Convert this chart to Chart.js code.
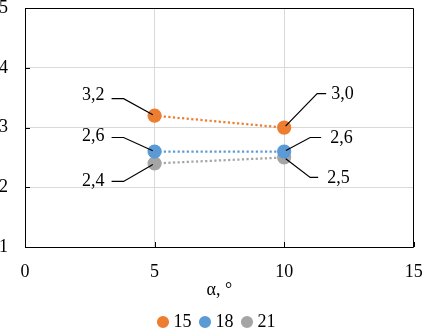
<!DOCTYPE html>
<html><head><meta charset="utf-8">
<script src="https://cdn.jsdelivr.net/npm/chart.js@4/dist/chart.umd.min.js"></script>
<style>html,body{margin:0;padding:0;background:#fff;}#wrap{width:422px;height:333px;}</style>
</head><body><div id="wrap"><canvas id="c" width="422" height="333"></canvas></div>
<script>
// ---- data ----
const xValues = [5, 10];
const seriesNames = ['15', '18', '21'];
const series15 = [3.2, 3.0];
const series18 = [2.6, 2.6];
const series21 = [2.4, 2.5];
const xTicks = [0, 5, 10, 15];
const yTicks = [1, 2, 3, 4, 5];
const xTitle = 'α, °';

// ---- styles / label placement (not data) ----
const colors = ['#ED7D31', '#5B9BD5', '#A5A5A5'];
// per series, per point: pixel offsets from the marker for leader elbow and text
const labelPlacement = [
  [{side: 'left', dy: -17, ty: -20, e1: -43, e2: -31, tx: -50},
   {side: 'right', dy: -34, ty: -33, e1: 42, e2: 33, tx: 47}],
  [{side: 'left', dy: -14, ty: -15, e1: -43, e2: -31, tx: -50},
   {side: 'right', dy: -14, ty: -13, e1: 37, e2: 26, tx: 46}],
  [{side: 'left', dy: 18, ty: 17.5, e1: -43, e2: -31, tx: -50},
   {side: 'right', dy: 20, ty: 21, e1: 34, e2: 26, tx: 43}]
];
const FONT = '"Liberation Serif", "Times New Roman", serif';

const allSeries = [series15, series18, series21];
const datasets = allSeries.map((vals, i) => ({
  label: seriesNames[i],
  data: xValues.map((x, j) => ({x: x, y: vals[j]})),
  borderColor: colors[i],
  backgroundColor: colors[i],
  pointBackgroundColor: colors[i],
  pointBorderColor: colors[i],
  borderWidth: 2.25,
  borderDash: [2.2, 2.4],
  borderCapStyle: 'butt',
  pointRadius: 6,
  pointHoverRadius: 6,
  pointStyle: 'circle',
  showLine: true,
  fill: false,
  tension: 0
}));

const fmt = v => v.toFixed(1).replace('.', ',');

const framePlugin = {
  id: 'frame',
  beforeDraw(chart) {
    // shift the legend row slightly right to sit under the plot centre
    if (chart.legend) chart.legend.left = 15;
  },
  beforeDatasetsDraw(chart) {
    const {ctx, chartArea: a, scales} = chart;
    ctx.save();
    ctx.strokeStyle = '#000';
    ctx.lineWidth = 1;
    ctx.beginPath();
    ctx.rect(Math.round(a.left) + 0.5, Math.round(a.top) + 0.5, Math.round(a.right - a.left) - 1, Math.round(a.bottom - a.top));
    ctx.stroke();
    ctx.beginPath();
    yTicks.forEach(v => {
      const y = Math.round(scales.y.getPixelForValue(v)) + 0.5;
      ctx.moveTo(a.left, y); ctx.lineTo(a.left + 5, y);
    });
    xTicks.forEach(v => {
      const x = Math.round(scales.x.getPixelForValue(v)) + 0.5;
      ctx.moveTo(x, a.bottom); ctx.lineTo(x, a.bottom - 5);
    });
    ctx.stroke();
    ctx.restore();
  }
};

const labelPlugin = {
  id: 'leaderLabels',
  afterDatasetsDraw(chart) {
    const {ctx} = chart;
    ctx.save();
    ctx.font = '18px ' + FONT;
    ctx.fillStyle = '#000';
    ctx.strokeStyle = '#000';
    ctx.lineWidth = 1.2;
    ctx.textBaseline = 'middle';
    chart.data.datasets.forEach((ds, i) => {
      const meta = chart.getDatasetMeta(i);
      meta.data.forEach((pt, j) => {
        const p = labelPlacement[i][j];
        const px = pt.x, py = pt.y;
        const ey = py + p.dy;
        const e1 = px + p.e1, e2 = px + p.e2;
        ctx.textAlign = p.side === 'left' ? 'right' : 'left';
        const ang = Math.atan2(py - ey, px - e2);
        const endX = px - Math.cos(ang) * 2, endY = py - Math.sin(ang) * 2;
        ctx.beginPath();
        ctx.moveTo(e1, ey);
        ctx.lineTo(e2, ey);
        ctx.lineTo(endX, endY);
        ctx.stroke();
        ctx.fillText(fmt(allSeries[i][j]), px + p.tx, py + p.ty);
      });
    });
    ctx.restore();
  }
};

new Chart(document.getElementById('c'), {
  type: 'scatter',
  data: {datasets},
  options: {
    responsive: false,
    animation: false,
    devicePixelRatio: 1,
    layout: {padding: {top: 7, right: 0, left: 0, bottom: -8}},
    plugins: {
      tooltip: {enabled: false},
      legend: {
        position: 'bottom',
        labels: {
          usePointStyle: true,
          pointStyle: 'circle',
          boxWidth: 3,
          boxHeight: 7,
          padding: 12,
          color: '#000',
          font: {family: FONT, size: 18}
        }
      }
    },
    scales: {
      x: {
        type: 'linear',
        min: 0, max: 15,
        afterBuildTicks: s => { s.ticks = xTicks.map(v => ({value: v})); },
        afterFit: s => { s.height = 54; s.paddingLeft = 0; s.paddingRight = 8; s.paddingTop = 0; s.paddingBottom = 0; },
        grid: {color: '#D9D9D9', drawTicks: false, lineWidth: 1},
        border: {display: false},
        ticks: {padding: 14, color: '#000', font: {family: FONT, size: 18}, maxRotation: 0},
        title: {display: true, text: xTitle, color: '#000', font: {family: FONT, size: 18}, padding: {top: 0, bottom: 0}}
      },
      y: {
        type: 'linear',
        min: 1, max: 5,
        afterBuildTicks: s => { s.ticks = yTicks.map(v => ({value: v})); },
        afterFit: s => { s.width = 25; s.paddingLeft = 0; s.paddingRight = 0; s.paddingTop = 0; s.paddingBottom = 0; },
        grid: {color: '#D9D9D9', drawTicks: false, lineWidth: 1},
        border: {display: false},
        ticks: {padding: 17, color: '#000', font: {family: FONT, size: 18}}
      }
    }
  },
  plugins: [framePlugin, labelPlugin]
});
</script>
</body></html>
